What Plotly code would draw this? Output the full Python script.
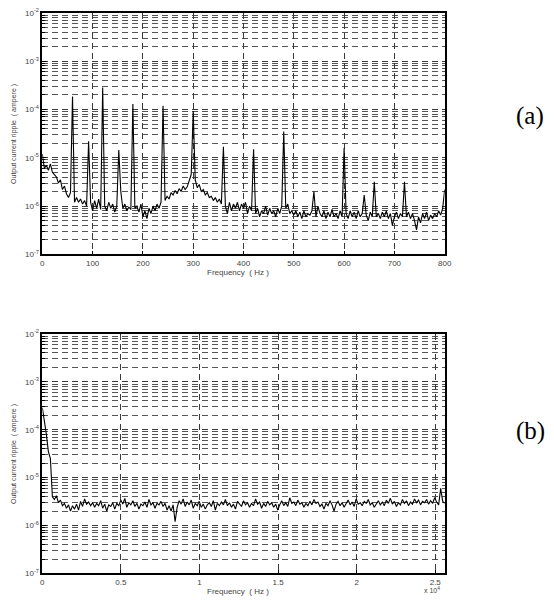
import plotly.graph_objects as go

# ---------------- data ----------------
freq_a = list(range(0, 801, 4))  # Hz
ripple_a = [
    1.2e-5, 6.0e-6, 7.0e-6, 5.5e-6, 7.5e-6, 5.0e-6, 4.5e-6, 4.0e-6, 3.0e-6, 3.5e-6,
    2.2e-6, 2.6e-6, 1.8e-6, 1.5e-6, 1.9e-6, 1.85e-4, 1.2e-6, 1.5e-6, 1.2e-6, 1.4e-6,
    1.1e-6, 1.3e-6, 1.0e-6, 2.2e-5, 1.2e-6, 8.0e-7, 1.3e-6, 9.0e-7, 1.4e-6, 8.5e-7,
    2.85e-4, 1.0e-6, 8.0e-7, 1.2e-6, 9.0e-7, 1.1e-6, 7.5e-7, 1.0e-6, 1.45e-5, 2.0e-6,
    9.0e-7, 1.1e-6, 8.0e-7, 9.5e-7, 8.5e-7, 1.3e-4, 9.0e-7, 1.0e-6, 7.5e-7, 1.1e-6,
    6.0e-7, 8.0e-7, 5.5e-7, 9.0e-7, 7.0e-7, 1.0e-6, 8.0e-7, 1.1e-6, 9.0e-7, 1.2e-6,
    1.2e-4, 1.3e-6, 1.6e-6, 1.4e-6, 1.9e-6, 1.7e-6, 2.1e-6, 1.8e-6, 2.3e-6, 2.0e-6,
    2.6e-6, 2.2e-6, 2.5e-6, 3.2e-6, 4.5e-6, 9.3e-5, 3.5e-6, 2.4e-6, 2.8e-6, 2.0e-6,
    2.2e-6, 1.7e-6, 1.9e-6, 1.5e-6, 1.6e-6, 1.3e-6, 1.5e-6, 1.2e-6, 1.4e-6, 1.1e-6,
    1.7e-5, 1.0e-6, 7.0e-7, 1.2e-6, 8.0e-7, 1.1e-6, 9.0e-7, 1.2e-6, 8.0e-7, 1.1e-6,
    9.0e-7, 1.2e-6, 7.0e-7, 1.0e-6, 8.0e-7, 1.5e-5, 7.0e-7, 9.0e-7, 6.0e-7, 8.0e-7,
    7.0e-7, 1.0e-6, 6.5e-7, 9.0e-7, 7.0e-7, 8.0e-7, 6.0e-7, 9.0e-7, 7.0e-7, 1.0e-6,
    3.5e-5, 9.0e-7, 1.1e-6, 7.0e-7, 8.0e-7, 6.5e-7, 8.0e-7, 6.0e-7, 7.5e-7, 5.5e-7,
    8.0e-7, 6.0e-7, 7.0e-7, 6.5e-7, 8.0e-7, 2.0e-6, 6.0e-7, 1.0e-6, 7.0e-7, 6.0e-7,
    8.0e-7, 5.5e-7, 7.5e-7, 6.0e-7, 8.5e-7, 6.0e-7, 7.0e-7, 5.5e-7, 8.0e-7, 6.0e-7,
    1.6e-5, 7.0e-7, 5.5e-7, 8.0e-7, 6.0e-7, 7.5e-7, 5.5e-7, 8.0e-7, 6.0e-7, 7.0e-7,
    1.7e-6, 6.5e-7, 5.0e-7, 7.5e-7, 6.0e-7, 3.2e-6, 6.0e-7, 7.0e-7, 5.5e-7, 7.5e-7,
    6.0e-7, 8.0e-7, 5.5e-7, 7.0e-7, 4.0e-7, 6.0e-7, 7.5e-7, 5.5e-7, 7.0e-7, 6.0e-7,
    3.2e-6, 6.0e-7, 7.5e-7, 5.5e-7, 7.0e-7, 5.0e-7, 3.2e-7, 6.0e-7, 4.5e-7, 7.0e-7,
    5.5e-7, 7.5e-7, 5.0e-7, 6.5e-7, 5.5e-7, 7.0e-7, 6.0e-7, 8.0e-7, 6.5e-7, 9.0e-7,
    2.2e-6,
]

freq_b = list(range(0, 25601, 128))  # Hz
ripple_b = [
    2.9e-4, 1.6e-4, 8.0e-5, 3.5e-5, 2.5e-5, 4.0e-6, 3.5e-6, 4.2e-6, 3.0e-6, 3.4e-6,
    2.6e-6, 2.9e-6, 2.3e-6, 2.7e-6, 2.0e-6, 2.6e-6, 2.2e-6, 2.8e-6, 2.1e-6, 3.2e-6,
    2.5e-6, 3.6e-6, 2.8e-6, 3.1e-6, 2.6e-6, 3.0e-6, 2.4e-6, 2.9e-6, 2.6e-6, 3.3e-6,
    2.3e-6, 2.8e-6, 2.0e-6, 2.7e-6, 2.5e-6, 3.0e-6, 2.2e-6, 2.9e-6, 2.6e-6, 3.4e-6,
    2.8e-6, 3.7e-6, 2.4e-6, 3.0e-6, 2.7e-6, 3.3e-6, 2.5e-6, 2.9e-6, 2.2e-6, 2.8e-6,
    2.6e-6, 3.1e-6, 2.4e-6, 3.5e-6, 2.7e-6, 3.0e-6, 2.3e-6, 2.9e-6, 2.7e-6, 3.2e-6,
    2.5e-6, 2.9e-6, 2.1e-6, 2.6e-6, 2.0e-6, 2.7e-6, 1.2e-6, 2.4e-6, 3.3e-6, 2.8e-6,
    3.6e-6, 2.5e-6, 3.1e-6, 2.7e-6, 3.4e-6, 2.3e-6, 2.9e-6, 2.6e-6, 3.2e-6, 2.4e-6,
    2.8e-6, 2.2e-6, 2.7e-6, 3.0e-6, 2.5e-6, 3.3e-6, 2.1e-6, 2.9e-6, 2.6e-6, 3.1e-6,
    2.7e-6, 3.5e-6, 2.6e-6, 3.0e-6, 2.4e-6, 2.8e-6, 2.2e-6, 3.2e-6, 2.9e-6, 2.5e-6,
    3.3e-6, 2.7e-6, 3.0e-6, 2.4e-6, 2.9e-6, 2.6e-6, 3.6e-6, 2.8e-6, 3.1e-6, 2.3e-6,
    2.9e-6, 2.5e-6, 3.2e-6, 2.7e-6, 3.0e-6, 2.4e-6, 2.8e-6, 2.1e-6, 2.7e-6, 3.3e-6,
    2.6e-6, 3.0e-6, 2.5e-6, 3.8e-6, 2.9e-6, 3.1e-6, 2.6e-6, 3.4e-6, 2.8e-6, 3.0e-6,
    2.4e-6, 2.9e-6, 2.6e-6, 3.2e-6, 2.7e-6, 3.5e-6, 2.9e-6, 3.1e-6, 2.5e-6, 2.8e-6,
    2.2e-6, 2.9e-6, 2.6e-6, 3.3e-6, 2.7e-6, 2.0e-6, 2.8e-6, 3.2e-6, 2.6e-6, 3.0e-6,
    2.4e-6, 2.9e-6, 3.4e-6, 2.7e-6, 3.1e-6, 2.5e-6, 3.6e-6, 2.8e-6, 3.0e-6, 2.6e-6,
    3.2e-6, 2.9e-6, 3.5e-6, 2.7e-6, 3.0e-6, 2.4e-6, 2.9e-6, 3.3e-6, 2.7e-6, 3.1e-6,
    2.6e-6, 3.4e-6, 2.9e-6, 3.7e-6, 2.8e-6, 3.2e-6, 2.5e-6, 3.0e-6, 2.7e-6, 3.5e-6,
    2.9e-6, 3.3e-6, 2.6e-6, 3.1e-6, 2.8e-6, 3.6e-6, 3.0e-6, 3.4e-6, 2.7e-6, 3.2e-6,
    3.0e-6, 3.5e-6, 2.8e-6, 3.3e-6, 2.9e-6, 3.8e-6, 3.1e-6, 2.7e-6, 6.0e-6, 3.2e-6,
    2.9e-6,
]

y_decades = [1e-7, 1e-6, 1e-5, 1e-4, 1e-3, 1e-2]
y_decade_labels = ["10<sup>-7</sup>", "10<sup>-6</sup>", "10<sup>-5</sup>",
                   "10<sup>-4</sup>", "10<sup>-3</sup>", "10<sup>-2</sup>"]
y_minor = [m * d for d in y_decades[:-1] for m in range(2, 10)]

x_ticks_a = [0, 100, 200, 300, 400, 500, 600, 700, 800]
x_ticks_b = [0, 5000, 10000, 15000, 20000, 25000]
x_labels_b = ["0", "0.5", "1", "1.5", "2", "2.5"]

# ---------------- figure ----------------
W, H = 554, 603
x0, x1 = 41, 450
top_a, bot_a = 7, 253
top_b, bot_b = 334, 578

def py(p):
    return 1 - p / H

SANS = "Liberation Sans, Arial, sans-serif"
SERIF = "Liberation Serif, Times New Roman, serif"
tick_font = dict(family=SANS, size=8, color="#444")
dash = "6px,4px"
gridc = "#3a3a3a"

fig = go.Figure()
fig.add_trace(go.Scatter(x=freq_a, y=ripple_a, mode="lines",
                         line=dict(color="black", width=1.1),
                         xaxis="x", yaxis="y", showlegend=False))
fig.add_trace(go.Scatter(x=freq_b, y=ripple_b, mode="lines",
                         line=dict(color="black", width=1.1),
                         xaxis="x2", yaxis="y2", showlegend=False))

def xaxis(domain_anchor, rng, tickvals, ticktext=None):
    d = dict(domain=[x0 / W, x1 / W], range=rng, anchor=domain_anchor,
             tickmode="array", tickvals=tickvals,
             showgrid=True, gridcolor=gridc, griddash=dash, gridwidth=1,
             showline=True, mirror=True, linecolor="black", linewidth=1.5,
             ticks="inside", ticklen=4, tickcolor="black",
             zeroline=False, tickfont=tick_font)
    if ticktext is not None:
        d["ticktext"] = ticktext
    return d

def yaxis(domain, anchor):
    return dict(domain=domain, type="log", range=[-7, -2], anchor=anchor,
                tickmode="array", tickvals=y_decades, ticktext=y_decade_labels,
                showgrid=True, gridcolor=gridc, griddash=dash, gridwidth=1,
                minor=dict(tickvals=y_minor, showgrid=True, gridcolor="#555",
                           griddash=dash, gridwidth=1, ticks="inside",
                           ticklen=3, tickcolor="black"),
                showline=True, mirror=True, linecolor="black", linewidth=1.5,
                ticks="inside", ticklen=4, tickcolor="black",
                zeroline=False, tickfont=tick_font)

fig.update_layout(
    width=W, height=H,
    margin=dict(l=0, r=0, t=0, b=0),
    paper_bgcolor="white", plot_bgcolor="white",
    xaxis=xaxis("y", [0, 800], x_ticks_a),
    yaxis=yaxis([py(bot_a), py(top_a)], "x"),
    xaxis2=xaxis("y2", [0, 25600], x_ticks_b, x_labels_b),
    yaxis2=yaxis([py(bot_b), py(top_b)], "x2"),
)

title_font = dict(family=SANS, size=8, color="#444")

def note(x, y, text, font, angle=0):
    return dict(x=x / W, y=py(y), xref="paper", yref="paper", text=text,
                textangle=angle, showarrow=False, font=font,
                xanchor="center", yanchor="middle")

ann = []
for top, bot in [(top_a, bot_a), (top_b, bot_b)]:
    ann.append(note(11.5, (top + bot) / 2, "Output current ripple  ( ampere )",
                    dict(family=SANS, size=7, color="#444"), angle=-90))
    ann.append(note(240, bot + 18, "Frequency  ( Hz )", title_font))
ann.append(note(437, 595, "x 10<sup>4</sup>", dict(family=SANS, size=7, color="#444")))
ann.append(note(537, 112, "(a)", dict(family=SERIF, size=25, color="black")))
ann.append(note(537, 433, "(b)", dict(family=SERIF, size=25, color="black")))
fig.update_layout(annotations=ann)

fig.write_html("out.html", config={"displayModeBar": False},
               post_script="document.body.style.margin='0';document.body.style.overflow='hidden';")
